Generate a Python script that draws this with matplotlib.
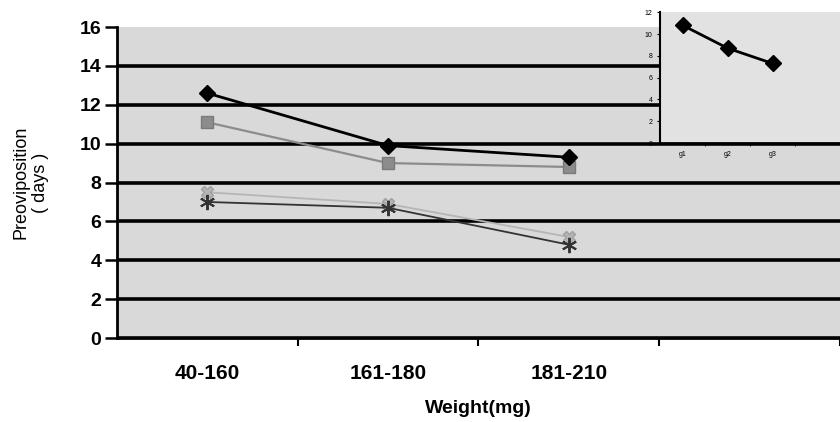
import matplotlib
matplotlib.use("Agg")
import matplotlib.pyplot as plt

# data
weight_classes = ["40-160", "161-180", "181-210", ""]
series_diamond = [12.6, 9.9, 9.3]
series_square = [11.1, 9.0, 8.8]
series_cross = [7.5, 6.9, 5.2]
series_star = [7.0, 6.7, 4.8]

inset_labels = ["g1", "g2", "g3", ""]
inset_values = [10.8, 8.7, 7.3]

plt.rcParams["font.family"] = ["Liberation Sans", "DejaVu Sans"]

fig = plt.figure(figsize=(8.4, 4.22), dpi=100)
ax = fig.add_axes([0.139, 0.199, 0.861, 0.737])
ax.set_facecolor("#d9d9d9")

x = list(range(len(series_diamond)))
ax.plot(x, series_diamond, color="black", lw=2.0, marker="D", ms=8, zorder=5)
ax.plot(x, series_square, color="#8c8c8c", lw=1.6, marker="s", ms=9,
        mec="#7a7a7a", zorder=4)
ax.plot(x, series_cross, color="#b5b5b5", lw=1.3, marker="X", ms=9,
        mec="#a0a0a0", zorder=3)
ax.plot(x, series_star, color="#333333", lw=1.3, marker=(6, 2, 0), ms=11,
        mew=1.4, zorder=3)

ax.set_ylim(0, 16)
ax.set_xlim(-0.5, len(weight_classes) - 0.5)
ax.set_yticks(range(0, 17, 2))
ax.yaxis.grid(True, color="black", lw=2.6)
ax.set_axisbelow(True)
# no gridline along the top edge
ax.yaxis.get_gridlines()[-1].set_visible(False)

ax.set_xticks(range(len(weight_classes)))
ax.set_xticklabels(weight_classes, fontsize=15, fontweight="bold")
ax.tick_params(axis="x", length=0, pad=19)
ax.set_xticks([i + 0.5 for i in range(len(weight_classes))], minor=True)
ax.tick_params(axis="x", which="minor", length=6, width=1.5, direction="out")
ax.tick_params(axis="y", labelsize=14, length=9, width=1.8, pad=2)
for lbl in ax.get_yticklabels():
    lbl.set_fontweight("bold")

for side in ["top", "right"]:
    ax.spines[side].set_visible(False)
ax.spines["left"].set_linewidth(2)
ax.spines["bottom"].set_linewidth(2)

ax.set_xlabel("Weight(mg)", fontsize=14, fontweight="bold", labelpad=12)
ax.set_ylabel("Preoviposition\n( days )", fontsize=13, labelpad=22,
              linespacing=1.2)

# small inset chart, top right
ins = fig.add_axes([0.786, 0.661, 0.214, 0.31])
ins.set_facecolor("#e2e2e2")
ins.plot(range(len(inset_values)), inset_values, color="black", lw=2.0,
         marker="D", ms=8)
ins.set_ylim(0, 12)
ins.set_xlim(-0.5, len(inset_labels) - 0.5)
ins.set_yticks(range(0, 13, 2))
ins.set_xticks(range(len(inset_labels)))
ins.set_xticklabels(inset_labels, fontsize=5)
ins.tick_params(axis="x", length=0, pad=6)
ins.set_xticks([i + 0.5 for i in range(len(inset_labels))], minor=True)
ins.tick_params(axis="x", which="minor", length=2)
ins.tick_params(axis="y", labelsize=5, length=2)
for side in ["top", "right"]:
    ins.spines[side].set_visible(False)
ins.spines["left"].set_linewidth(1.5)
ins.spines["bottom"].set_linewidth(2)

fig.savefig("out.png", dpi=100)
